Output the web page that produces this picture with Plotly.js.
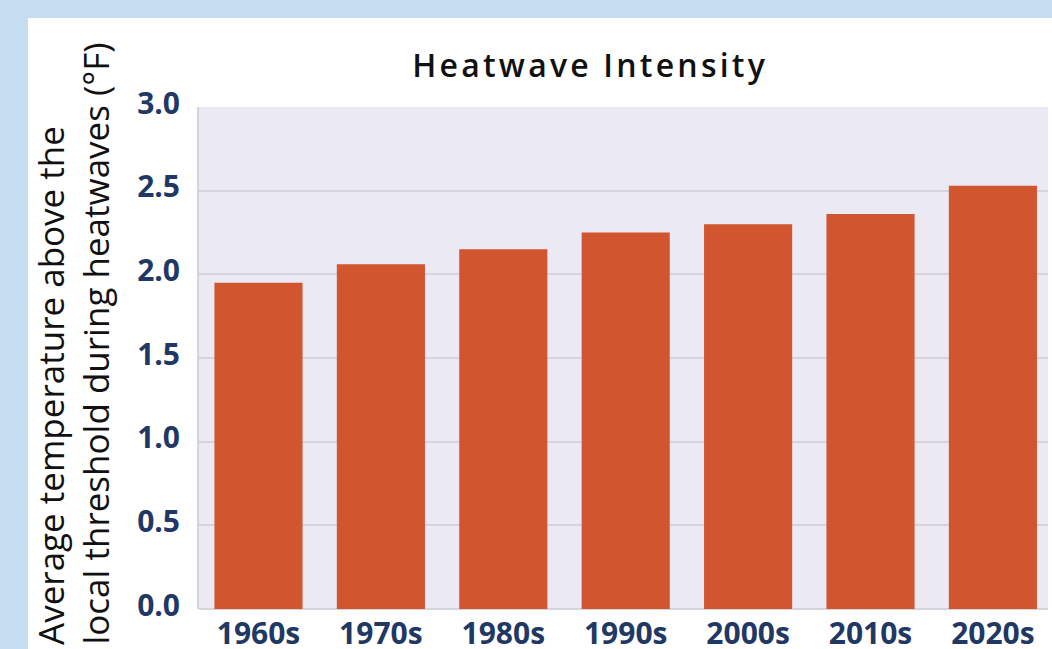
<!DOCTYPE html>
<html>
<head>
<meta charset="utf-8">
<script src="https://cdn.plot.ly/plotly-3.0.1.min.js"></script>
<style>
  html, body { margin: 0; padding: 0; width: 1052px; height: 649px; overflow: hidden; background: #c6ddf0; }
  #panel { position: absolute; left: 28px; top: 18px; width: 1024px; height: 631px; background: #ffffff; }
  #chart { width: 1024px; height: 631px; }
  /* wider tracking for the heading */
  #chart .gtitle { letter-spacing: 3.2px; }
</style>
</head>
<body>
<div id="panel"><div id="chart"></div></div>
<script>
// Decades and the average heatwave temperature above the local threshold (°F)
const decades = ['1960s', '1970s', '1980s', '1990s', '2000s', '2010s', '2020s'];
const intensity = [1.95, 2.06, 2.15, 2.25, 2.30, 2.36, 2.53];
const yTicks = [0, 0.5, 1.0, 1.5, 2.0, 2.5, 3.0];
const yTickText = ['0.0', '0.5', '1.0', '1.5', '2.0', '2.5', '3.0'];

const chartTitle = 'Heatwave Intensity';
const yTitleLines = ['Average temperature above the', 'local threshold during heatwaves (°F)'];

const tickFont = { family: 'Open Sans, sans-serif', size: 30, color: '#1f3864', weight: 700 };
const yTitleFont = { family: 'Open Sans, sans-serif', size: 35, color: '#111111' };

const trace = {
  type: 'bar',
  x: decades,
  y: intensity,
  marker: { color: '#d1552f', line: { width: 0 } },
  hoverinfo: 'x+y'
};

// The two-line axis title is set as two rotated annotations, left-aligned at the bottom
const yTitleX = [-0.175, -0.123];
const yTitleAnnotations = yTitleLines.map((line, i) => ({
  text: line,
  xref: 'paper', yref: 'paper',
  x: yTitleX[i], xanchor: 'center',
  y: -0.0757, yanchor: 'bottom',
  textangle: -90,
  showarrow: false,
  font: yTitleFont
}));

const layout = {
  width: 1024,
  height: 631,
  margin: { l: 171, r: 4, t: 89, b: 40 },
  paper_bgcolor: '#ffffff',
  plot_bgcolor: '#ebe9f3',
  bargap: 0.28,
  showlegend: false,
  title: {
    text: chartTitle,
    font: { family: 'Open Sans, sans-serif', size: 32, color: '#111111', weight: 600 },
    xref: 'container', x: 0.549, xanchor: 'center',
    yref: 'container', y: 0.925, yanchor: 'middle'
  },
  xaxis: {
    type: 'category',
    range: [-0.486, 6.45],
    showgrid: false,
    zeroline: false,
    showline: false,
    ticks: '',
    tickfont: tickFont,
    ticklabelstandoff: 4
  },
  yaxis: {
    range: [0, 3],
    tickvals: yTicks,
    ticktext: yTickText,
    showgrid: true,
    gridcolor: '#d5d3db',
    gridwidth: 2,
    zeroline: true,
    zerolinecolor: '#d5d3db',
    zerolinewidth: 2,
    showline: true,
    linecolor: '#d5d3db',
    linewidth: 2,
    ticks: '',
    tickfont: tickFont,
    ticklabelstandoff: 11,
    ticklabelshift: -4
  },
  annotations: yTitleAnnotations
};

Plotly.newPlot('chart', [trace], layout, { displayModeBar: false, staticPlot: true });
</script>
</body>
</html>
